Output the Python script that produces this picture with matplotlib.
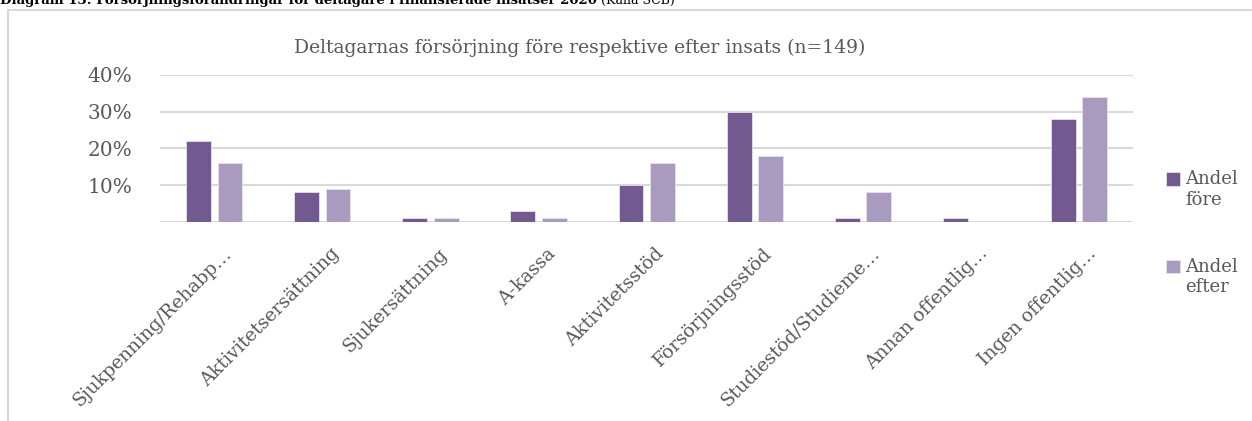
import matplotlib.pyplot as plt
import matplotlib.transforms as mtransforms
import numpy as np
from matplotlib.lines import Line2D

# Data (share of participants)
kategorier = ['Sjukpenning/Rehabp…', 'Aktivitetsersättning', 'Sjukersättning', 'A-kassa',
              'Aktivitetsstöd', 'Försörjningsstöd', 'Studiestöd/Studieme…',
              'Annan offentlig…', 'Ingen offentlig…']
andel_fore = [0.22, 0.08, 0.01, 0.03, 0.10, 0.30, 0.01, 0.01, 0.28]
andel_efter = [0.16, 0.09, 0.01, 0.01, 0.16, 0.18, 0.08, 0.00, 0.34]

dark = '#725990'
light = '#A99ABF'
grey = '#595959'
plt.rcParams['font.family'] = ['DejaVu Serif']

fig = plt.figure(figsize=(12.52, 4.21), dpi=100)
ax = fig.add_axes([0.128, 0.473, 0.777, 0.349])

x = np.arange(len(kategorier))
w = 0.23
ax.bar(x - 0.145, andel_fore, w, color=dark, edgecolor='#E6E0EE', linewidth=0.6, label='Andel\nföre', zorder=3)
ax.bar(x + 0.145, andel_efter, w, color=light, edgecolor='#E6E0EE', linewidth=0.6, label='Andel\nefter', zorder=3)

ax.set_xlim(-0.5, len(kategorier) - 0.5)
ax.set_ylim(0, 0.4)
ax.set_yticks([0.1, 0.2, 0.3, 0.4])
ax.set_yticklabels(['10%', '20%', '30%', '40%'], fontsize=14.5, color=grey)
ax.yaxis.grid(True, color='#D9D9D9', linewidth=1.5, zorder=0)
ax.axhline(0, color='#D9D9D9', linewidth=1.5, zorder=2)
ax.set_xticks(x)
ax.set_xticklabels(kategorier, rotation=45, ha='right', rotation_mode='anchor',
                   fontsize=13.5, color=grey)
ax.tick_params(axis='y', length=0, pad=20)
ax.tick_params(axis='x', length=0, pad=4)
off = mtransforms.ScaledTranslation(0.08, -0.17, fig.dpi_scale_trans)
for lbl in ax.get_xticklabels():
    lbl.set_transform(lbl.get_transform() + off)
for s in ax.spines.values():
    s.set_visible(False)

fig.text(580 / 1252, 1 - 48 / 421, 'Deltagarnas försörjning före respektive efter insats (n=149)',
         fontsize=13.5, color=grey, ha='center', va='center')

leg = fig.legend(loc='upper left', bbox_to_anchor=(1166 / 1252, 1 - 170 / 421), frameon=False,
                 fontsize=13, labelcolor=grey, handlelength=0.75, handleheight=0.75,
                 handletextpad=0.3, labelspacing=2.7, borderpad=0, borderaxespad=0)
for h in leg.legend_handles:
    h.set_y(h.get_y() + 8)

# Outer chart border
fig.add_artist(Line2D([8/1252, 8/1252], [0, 1 - 10/421], color='#D9D9D9', lw=1.5))
fig.add_artist(Line2D([8/1252, 1], [1 - 10/421, 1 - 10/421], color='#D9D9D9', lw=1.5))

# Clipped heading from the document
t = fig.text(0.0, 1.0, 'Diagram 13: Försörjningsförändringar för deltagare i finansierade insatser 2020',
             fontsize=9.5, fontweight='bold', va='center', ha='left', color='black')
ax.annotate(' (Källa SCB)', xy=(1, 0.5), xycoords=t, va='center', ha='left',
            fontsize=9, color='black', annotation_clip=False)

fig.savefig('out.png', dpi=100)
